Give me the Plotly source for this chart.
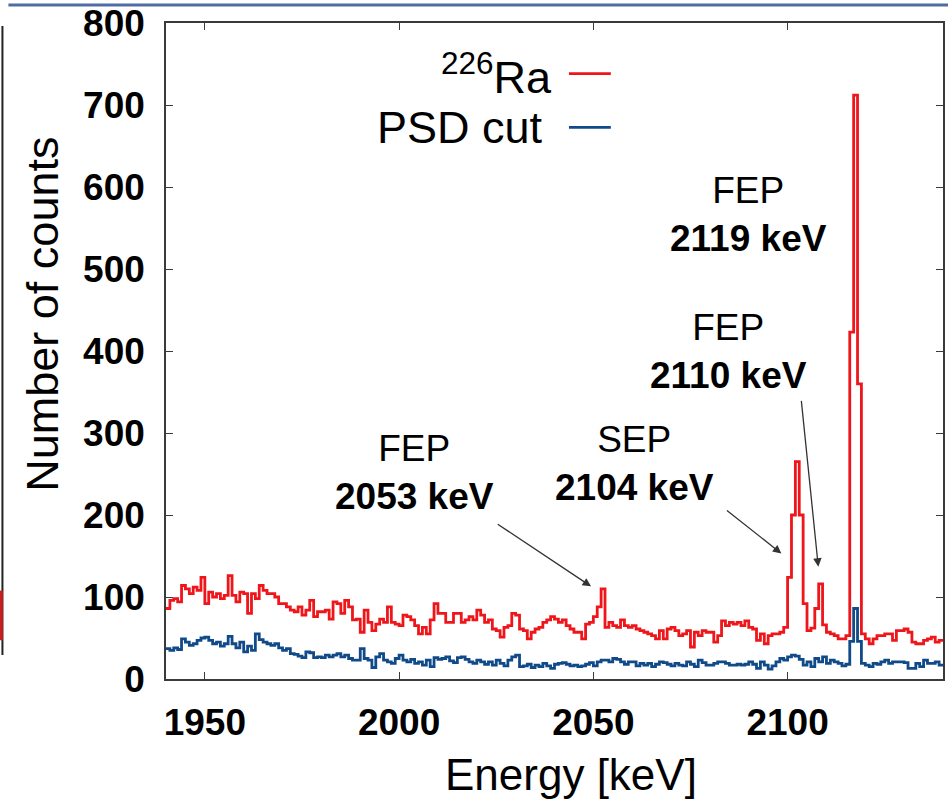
import numpy as np
import plotly.graph_objects as go

# Energy binning of the spectrum (keV)
bin_start = 1940
bin_width = 1.0

# Counts per bin, 1940-2139 keV
ra226_counts = [
    86, 96, 98, 94, 114, 110, 104, 112, 108, 124,
    92, 106, 100, 104, 98, 102, 126, 102, 94, 106,
    104, 80, 104, 98, 114, 108, 104, 104, 100, 92,
    92, 88, 84,
    82, 88, 78, 84, 96, 76, 82, 82, 84, 73,
    94, 92, 80, 96, 88, 72, 73, 57, 84, 69,
    59, 67, 73, 69, 88, 69, 67, 65, 78, 76,
    72, 65, 55,
    63, 55, 72, 92, 80, 80, 69, 69, 80, 80,
    69, 72, 76, 72, 84, 78, 69, 72, 61, 59,
    51, 63, 65, 80, 78, 61, 59, 49, 57, 61,
    63, 69, 72, 76,
    73, 69, 72, 65, 61, 57, 57, 49, 67, 69,
    76, 88, 110, 63, 69, 65, 63, 72, 65, 63,
    65, 61, 59, 57, 55, 53, 49, 59, 49, 61,
    63, 59, 53,
    55, 59, 39, 57, 53, 59, 57, 57, 45, 53,
    71, 65, 69, 67, 69, 65, 71, 63, 61, 47,
    55, 43, 53, 55, 55, 57, 63,
    124, 200, 265, 200, 92, 59, 62, 86, 116, 66,
    57, 55, 53, 49, 49, 53, 423, 712, 360,
    55, 49, 43, 49, 53, 53, 55, 55, 47, 59,
    59, 61, 57, 45, 43, 43, 47, 49, 51, 45, 47,
]

psd_cut_counts = [
    37, 35, 38, 36, 49, 45, 41, 43, 47, 50,
    51, 47, 43, 45, 40, 43, 52, 43, 38, 45,
    33, 40, 35, 55, 48, 45, 43, 41, 43, 38,
    35, 37, 31,
    30, 28, 26, 33, 32, 26, 27, 26, 29, 27,
    29, 31, 27, 29, 25, 23, 23, 37, 25, 23,
    14, 27, 31, 23, 21, 19, 25, 29, 23, 21,
    24, 19, 21,
    17, 23, 15, 26, 24, 25, 27, 22, 20, 26,
    27, 24, 21, 19, 23, 21, 18, 21, 17, 23,
    19, 16, 23, 27, 29, 15, 16, 18, 14, 17,
    15, 19, 16, 13,
    18, 19, 20, 18, 16, 17, 15, 16, 18, 20,
    16, 21, 23, 23, 21, 25, 24, 21, 18, 21,
    21, 16, 19, 17, 19, 15, 18, 21, 20, 18,
    16, 19, 17,
    16, 21, 18, 15, 23, 20, 17, 17, 19, 21,
    21, 19, 17, 17, 18, 17, 18, 21, 18, 13,
    21, 17, 12, 16, 21, 25, 23,
    27, 29, 28, 24, 17, 21, 15, 25, 21, 27,
    19, 23, 21, 19, 16, 18, 46, 86, 46,
    19, 17, 15, 19, 18, 21, 23, 19, 21, 21,
    21, 20, 13, 13, 19, 15, 23, 19, 19, 21, 17,
]

# Peak labels: (line 1, line 2, label x, label y, arrow head x, arrow head y, arrow tail x, arrow tail y)
peak_labels = [
    ("FEP", "2053 keV", 2003.9, 252, 2049.4, 113, 2025.0, 190),
    ("SEP", "2104 keV", 2060.7, 263, 2098.4, 153, 2084.0, 207),
    ("FEP", "2110 keV", 2084.8, 400, 2107.9, 137, 2103.5, 341),
    ("FEP", "2119 keV", 2089.9, 567, None, None, None, None),
]

x_ticks = [1950, 2000, 2050, 2100]
y_ticks = [0, 100, 200, 300, 400, 500, 600, 700, 800]

RED = "rgb(238,22,26)"
BLUE = "rgb(16,74,136)"
FRAME = "#3a3a3a"
FONT = "Liberation Sans, Arial, sans-serif"

edges = bin_start + bin_width * np.arange(len(ra226_counts) + 1)


def step_trace(counts, color, name):
    y = list(counts) + [counts[-1]]
    return go.Scatter(
        x=edges, y=y, mode="lines", line=dict(shape="hv", color=color, width=2.8),
        name=name, showlegend=False, hoverinfo="skip",
    )


fig = go.Figure()
fig.add_trace(step_trace(ra226_counts, RED, "226Ra"))
fig.add_trace(step_trace(psd_cut_counts, BLUE, "PSD cut"))

axis_common = dict(
    showline=True, linecolor=FRAME, linewidth=1.5, mirror="ticks",
    ticks="inside", ticklen=7, tickwidth=1.3, tickcolor=FRAME,
    showgrid=False, zeroline=False, ticklabeloverflow="allow",
    tickfont=dict(family=FONT, size=37, color="black", weight="bold"),
)

fig.update_xaxes(range=[1940, 2140], tickvals=x_ticks, ticklabelstandoff=10, **axis_common)
fig.update_yaxes(range=[0, 800], tickvals=y_ticks, ticklabelstandoff=12, **axis_common)

annotations = []
for l1, l2, tx, ty, hx, hy, ax_, ay_ in peak_labels:
    annotations.append(dict(
        x=tx, y=ty, xref="x", yref="y", showarrow=False,
        text=f"{l1}<br><b>{l2}</b>", align="center",
        font=dict(family=FONT, size=37, color="black"),
    ))
    if hx is not None:
        annotations.append(dict(
            x=hx, y=hy, xref="x", yref="y", ax=ax_, ay=ay_, axref="x", ayref="y",
            text="", showarrow=True, arrowhead=2, arrowsize=1.3, arrowwidth=1.3,
            arrowcolor="#333333",
        ))

# Axis titles
annotations.append(dict(
    x=0.521, y=-0.1455, xref="paper", yref="paper", showarrow=False,
    text="Energy [keV]", font=dict(family=FONT, size=44, color="black"),
    xanchor="center", yanchor="middle",
))
annotations.append(dict(
    x=-0.159, y=0.556, xref="paper", yref="paper", showarrow=False,
    text="Number of counts", textangle=-90, font=dict(family=FONT, size=45, color="black"),
    xanchor="center", yanchor="middle",
))

# Key: label on the left, line sample on the right
key_entries = [("<sup>226</sup>Ra", RED, 0.9227, 0.4994), ("PSD cut", BLUE, 0.8409, 0.4880)]
shapes = []
for label, color, ky, kx in key_entries:
    annotations.append(dict(
        x=kx, y=ky, xref="paper", yref="paper", showarrow=False,
        text=label, font=dict(family=FONT, size=45, color="black"),
        xanchor="right", yanchor="middle",
    ))
    shapes.append(dict(
        type="line", xref="paper", yref="paper", x0=0.5186, x1=0.5725, y0=ky, y1=ky,
        line=dict(color=color, width=2.8),
    ))

# Page border pieces
shapes.append(dict(type="line", xref="paper", yref="paper",
                   x0=-0.2028, x1=1.01, y0=1.0273, y1=1.0273,
                   line=dict(color="rgb(80,108,165)", width=3)))
shapes.append(dict(type="line", xref="paper", yref="paper",
                   x0=-0.2105, x1=-0.2105, y0=0.9955, y1=0.0364,
                   line=dict(color="#222222", width=2)))
shapes.append(dict(type="line", xref="paper", yref="paper",
                   x0=-0.2118, x1=-0.2118, y0=0.1348, y1=0.0591,
                   line=dict(color="rgb(200,30,30)", width=3)))

fig.update_layout(
    width=948, height=804,
    margin=dict(l=166, r=3, t=19, b=125),
    paper_bgcolor="white", plot_bgcolor="white",
    annotations=annotations, shapes=shapes,
    showlegend=False,
)

fig.write_html("out.html")
